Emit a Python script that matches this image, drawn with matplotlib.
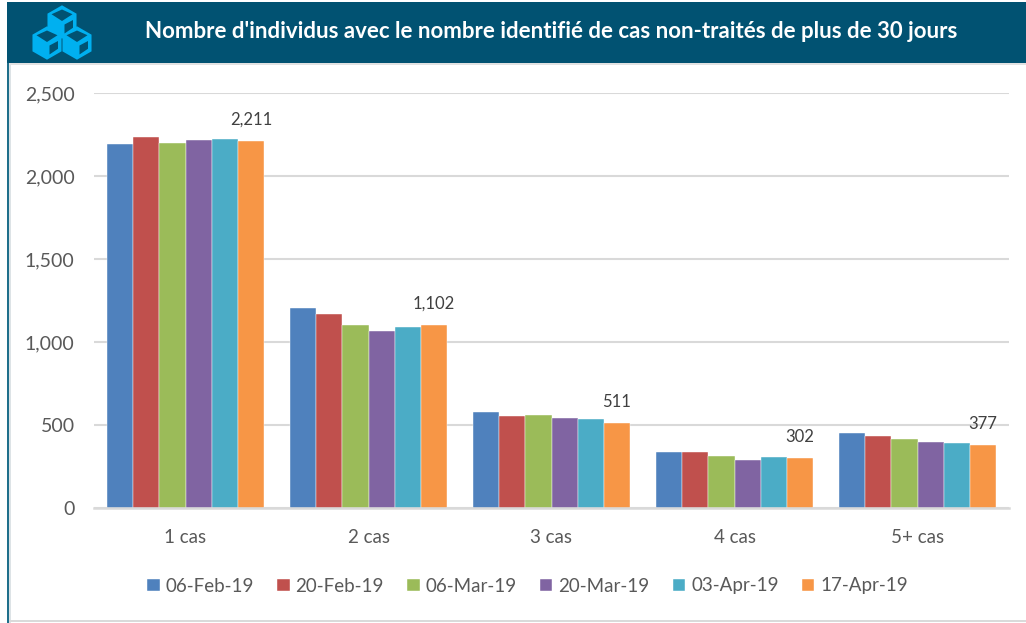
import matplotlib
matplotlib.use('Agg')
import numpy as np
import matplotlib.pyplot as plt
from matplotlib.patches import Polygon, Rectangle

plt.rcParams['font.family'] = ['Lato', 'DejaVu Sans']

# === Данные ===
categories = ['1 cas', '2 cas', '3 cas', '4 cas', '5+ cas']
dates = ['06-Feb-19', '20-Feb-19', '06-Mar-19', '20-Mar-19', '03-Apr-19', '17-Apr-19']
colors = ['#4F81BD', '#C0504D', '#9BBB59', '#8064A2', '#4BACC6', '#F79646']

v_feb06 = [2195, 1205, 580, 335, 450]
v_feb20 = [2235, 1170, 553, 338, 435]
v_mar06 = [2200, 1105, 558, 312, 418]
v_mar20 = [2215, 1065, 545, 290, 398]
v_apr03 = [2225, 1088, 537, 310, 393]
v_apr17 = [2211, 1102, 511, 302, 377]
series = [v_feb06, v_feb20, v_mar06, v_mar20, v_apr03, v_apr17]

yticks = [0, 500, 1000, 1500, 2000, 2500]
title = "Nombre d'individus avec le nombre identifié de cas non-traités de plus de 30 jours"

W, H = 1026, 623
fig = plt.figure(figsize=(W / 100, H / 100), dpi=100, facecolor='white')

# --- Фон в пикселях: шапка, рамка, значок ---
bg = fig.add_axes([0, 0, 1, 1], zorder=0)
bg.set_xlim(0, W); bg.set_ylim(H, 0); bg.axis('off')
bg.add_patch(Rectangle((7, 2), W - 7, 61, color='#015272', lw=0))
bg.add_patch(Rectangle((7, 63), 2, H - 63, color='#1F6F8B', lw=0))
bg.add_patch(Rectangle((9, 63), 2, H - 63, color='#DDE3E6', lw=0))
bg.add_patch(Rectangle((9, 63), W - 9, 2, color='#E2E2E2', lw=0))
bg.add_patch(Rectangle((9, 620), W - 9, 2, color='#DADADA', lw=0))
bg.text(551, 31, title, color='white', fontsize=16, fontweight='bold',
        ha='center', va='center')


def cube(cx, cy, r=15.5):
    """Изометрический кубик значка с центром (cx, cy)."""
    blue, dark = '#00B0F0', '#015272'
    hx = r * 0.87
    top = [(cx, cy - r), (cx + hx, cy - r / 2), (cx + hx, cy + r / 2),
           (cx, cy + r), (cx - hx, cy + r / 2), (cx - hx, cy - r / 2)]
    bg.add_patch(Polygon(top, closed=True, fc=blue, ec=blue, lw=1.5, zorder=3))
    # тёмные грани
    bg.add_patch(Polygon([(cx, cy - r + 3), (cx + hx - 3, cy - r / 2),
                          (cx, cy - 1), (cx - hx + 3, cy - r / 2)],
                         closed=True, fc=dark, ec='none', zorder=4))
    bg.add_patch(Polygon([(cx + 2.5, cy + 2.5), (cx + hx - 2.5, cy - 2),
                          (cx + hx - 2.5, cy + r / 2 - 2), (cx + 2.5, cy + r - 4)],
                         closed=True, fc=dark, ec='none', zorder=4))


cube(62, 22)
cube(47, 43)
cube(77, 43)

# --- График ---
ax = fig.add_axes([94 / W, 1 - 508 / H, 915 / W, 415 / H], zorder=1)
ax.patch.set_alpha(0)

x = np.arange(len(categories))
bar_w = 0.143
for i, (vals, c, d) in enumerate(zip(series, colors, dates)):
    ax.bar(x + (i - 2.5) * bar_w, vals, bar_w, color=c, label=d, zorder=2,
           edgecolor='white', linewidth=0.3)

# Подписи над последней серией
for xi, v in zip(x, v_apr17):
    ax.text(xi + 2.5 * bar_w, v + 128, f'{v:,}', ha='center', va='center',
            fontsize=12, color='#404040', zorder=3)

ax.set_xlim(-0.5, 4.5)
ax.set_ylim(0, 2500)
ax.set_yticks(yticks)
ax.set_yticklabels([f'{v:,}' for v in yticks], fontsize=14, color='#595959')
ax.set_xticks(x)
ax.set_xticklabels(categories, fontsize=13.5, color='#595959')
ax.tick_params(axis='both', length=0)
ax.tick_params(axis='x', pad=15)
ax.tick_params(axis='y', pad=14)
ax.grid(axis='y', color='#D9D9D9', lw=1.5, zorder=1)
ax.set_axisbelow(True)
for name in ['top', 'right', 'left']:
    ax.spines[name].set_visible(False)
ax.spines['bottom'].set_color('#D9D9D9')
ax.spines['bottom'].set_linewidth(1.8)

fig.legend(loc='center', bbox_to_anchor=(527.5 / W, 1 - 586 / H), ncol=6, frameon=False,
           fontsize=13.5, labelcolor='#595959', handlelength=0.66, handleheight=0.66,
           handletextpad=0.32, columnspacing=1.24)

fig.savefig('out.png', dpi=100)
